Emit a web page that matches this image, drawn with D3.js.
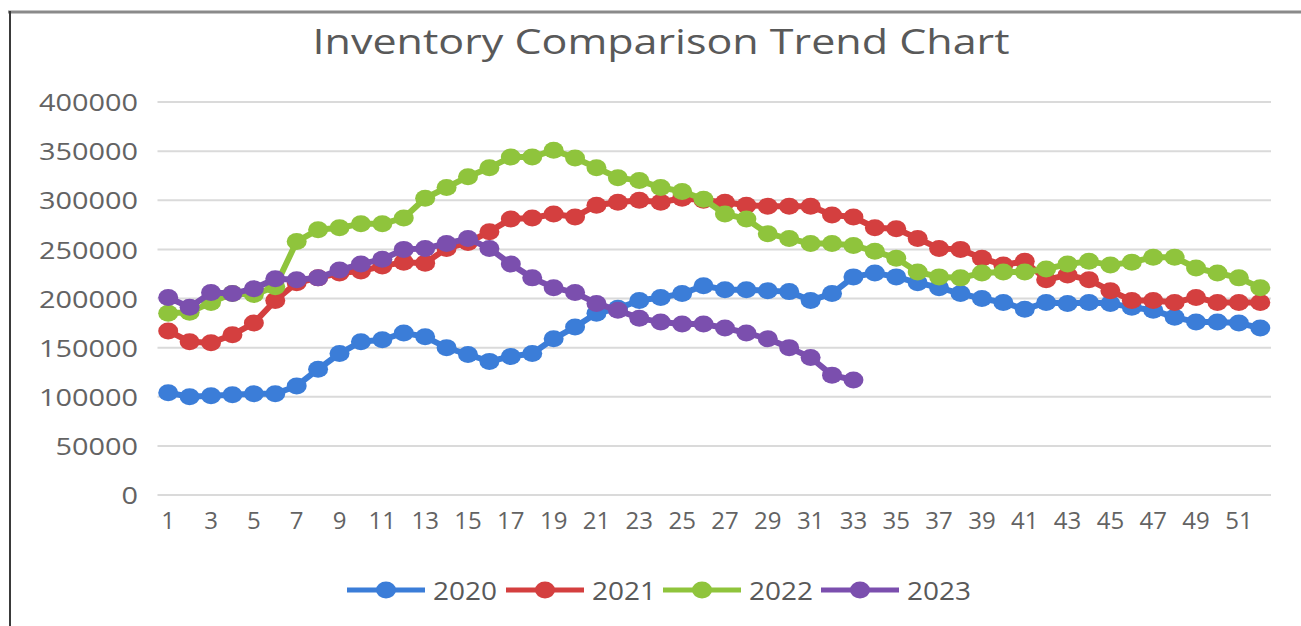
<!DOCTYPE html>
<html>
<head>
<meta charset="utf-8">
<script src="https://cdn.jsdelivr.net/npm/d3@7"></script>
<style>
  body { margin: 0; background: #fff; }
  svg { display: block; font-family: "Open Sans", sans-serif; }
</style>
</head>
<body>
<div id="chart"></div>
<script>
// week numbers 1..52
const weeks = [1,2,3,4,5,6,7,8,9,10,11,12,13,14,15,16,17,18,19,20,21,22,23,24,25,26,
  27,28,29,30,31,32,33,34,35,36,37,38,39,40,41,42,43,44,45,46,47,48,49,50,51,52];
const yTicks = [0, 50000, 100000, 150000, 200000, 250000, 300000, 350000, 400000];
const seriesNames = ["2020", "2021", "2022", "2023"];
const seriesColors = ["#3b7dd8", "#d43f3f", "#8fc43c", "#7b4fae"];

const v2020 = [104000,100000,101000,102000,103000,103000,111000,128000,144000,156000,158000,165000,161000,150000,143000,136000,141000,144000,159000,171000,
  185000,190000,198000,201000,205000,213000,209000,209000,208000,207000,198000,205000,222000,226000,222000,216000,211000,205000,200000,196000,
  189000,196000,195000,196000,195000,191000,188000,181000,176000,176000,175000,170000];
const v2021 = [167000,156000,155000,163000,175000,198000,216000,221000,226000,228000,233000,237000,236000,251000,257000,268000,281000,282000,286000,283000,
  295000,298000,300000,298000,302000,300000,298000,295000,294000,294000,294000,285000,283000,272000,271000,261000,251000,250000,241000,234000,
  238000,219000,224000,219000,208000,198000,198000,196000,201000,196000,196000,196000];
const v2022 = [185000,186000,196000,205000,204000,212000,258000,270000,272000,276000,276000,282000,302000,313000,324000,333000,344000,344000,351000,343000,
  333000,323000,320000,313000,309000,301000,286000,281000,266000,261000,256000,256000,254000,248000,241000,227000,222000,221000,226000,227000,
  227000,230000,235000,238000,234000,237000,242000,242000,231000,226000,221000,211000];
const v2023 = [201000,191000,206000,205000,210000,220000,219000,221000,229000,235000,240000,250000,251000,256000,261000,251000,235000,221000,211000,206000,
  195000,188000,180000,176000,174000,174000,170000,165000,159000,150000,140000,122000,117000];

const seriesValues = [v2020, v2021, v2022, v2023];

const W = 1301, H = 626;

const svg = d3.select("#chart").append("svg")
  .attr("width", W)
  .attr("height", H);

// frame of the chart object
svg.append("line").attr("x1", 8).attr("x2", W).attr("y1", 12).attr("y2", 12)
  .attr("stroke", "#8a8a8a").attr("stroke-width", 3);
svg.append("line").attr("x1", 10).attr("x2", 10).attr("y1", 11).attr("y2", H)
  .attr("stroke", "#3a3a3a").attr("stroke-width", 2);

svg.append("text")
  .attr("x", 661).attr("y", 54)
  .attr("text-anchor", "middle")
  .attr("fill", "#595959")
  .attr("textLength", 697)
  .attr("lengthAdjust", "spacingAndGlyphs")
  .style("font-size", "34px")
  .text("Inventory Comparison Trend Chart");

const x = d3.scaleBand().domain(weeks).range([157.5, 1271]);
const y = d3.scaleLinear().domain([0, 400000]).range([495, 102]);

// gridlines
svg.append("g").selectAll("line")
  .data(yTicks)
  .enter()
  .append("line")
  .attr("x1", 157.5).attr("x2", 1271)
  .attr("y1", d => y(d)).attr("y2", d => y(d))
  .attr("stroke", "#dadada").attr("stroke-width", 2);

// y labels
const yAxis = svg.append("g")
  .attr("transform", "translate(138,0)")
  .call(d3.axisLeft(y).tickValues(yTicks).tickSize(0).tickPadding(0).tickFormat(d3.format("d")));
yAxis.select(".domain").remove();
yAxis.selectAll("text")
  .attr("fill", "#636363")
  .attr("dy", "0.36em")
  .attr("textLength", d => String(d).length * 16.5)
  .attr("lengthAdjust", "spacingAndGlyphs")
  .style("font-size", "24px").style("font-family", "Open Sans, sans-serif");

// x labels
const xAxis = svg.append("g")
  .attr("transform", "translate(0,512)")
  .call(d3.axisBottom(x).tickValues(weeks.filter(w => w % 2 === 1)).tickSize(0).tickPadding(0));
xAxis.select(".domain").remove();
xAxis.selectAll("text").attr("fill", "#636363").style("font-size", "24px").style("font-family", "Open Sans, sans-serif");

const cx = i => x(weeks[i]) + x.bandwidth() / 2;
const line = d3.line().x((d, i) => cx(i)).y(d => y(d));

seriesValues.forEach((vals, k) => {
  const g = svg.append("g");
  g.append("path")
    .datum(vals)
    .attr("d", line)
    .attr("fill", "none")
    .attr("stroke", seriesColors[k])
    .attr("stroke-width", 6)
    .attr("stroke-linejoin", "round");
  g.selectAll("ellipse")
    .data(vals)
    .enter()
    .append("ellipse")
    .attr("cx", (d, i) => cx(i))
    .attr("cy", d => y(d))
    .attr("rx", 10)
    .attr("ry", 8.5)
    .attr("fill", seriesColors[k]);
});

// legend
const legendX = [347, 506, 663, 821];
const legend = svg.append("g");
seriesNames.forEach((name, k) => {
  const lg = legend.append("g").attr("transform", "translate(" + legendX[k] + ",590)");
  lg.append("line").attr("x1", 0).attr("x2", 78).attr("y1", 0).attr("y2", 0)
    .attr("stroke", seriesColors[k]).attr("stroke-width", 5);
  lg.append("ellipse").attr("cx", 39).attr("cy", 0).attr("rx", 10).attr("ry", 8.5).attr("fill", seriesColors[k]);
  lg.append("text").attr("x", 86).attr("y", 9.5)
    .attr("fill", "#595959")
    .attr("textLength", 64)
    .attr("lengthAdjust", "spacingAndGlyphs")
    .style("font-size", "26px").text(name);
});
</script>
</body>
</html>
